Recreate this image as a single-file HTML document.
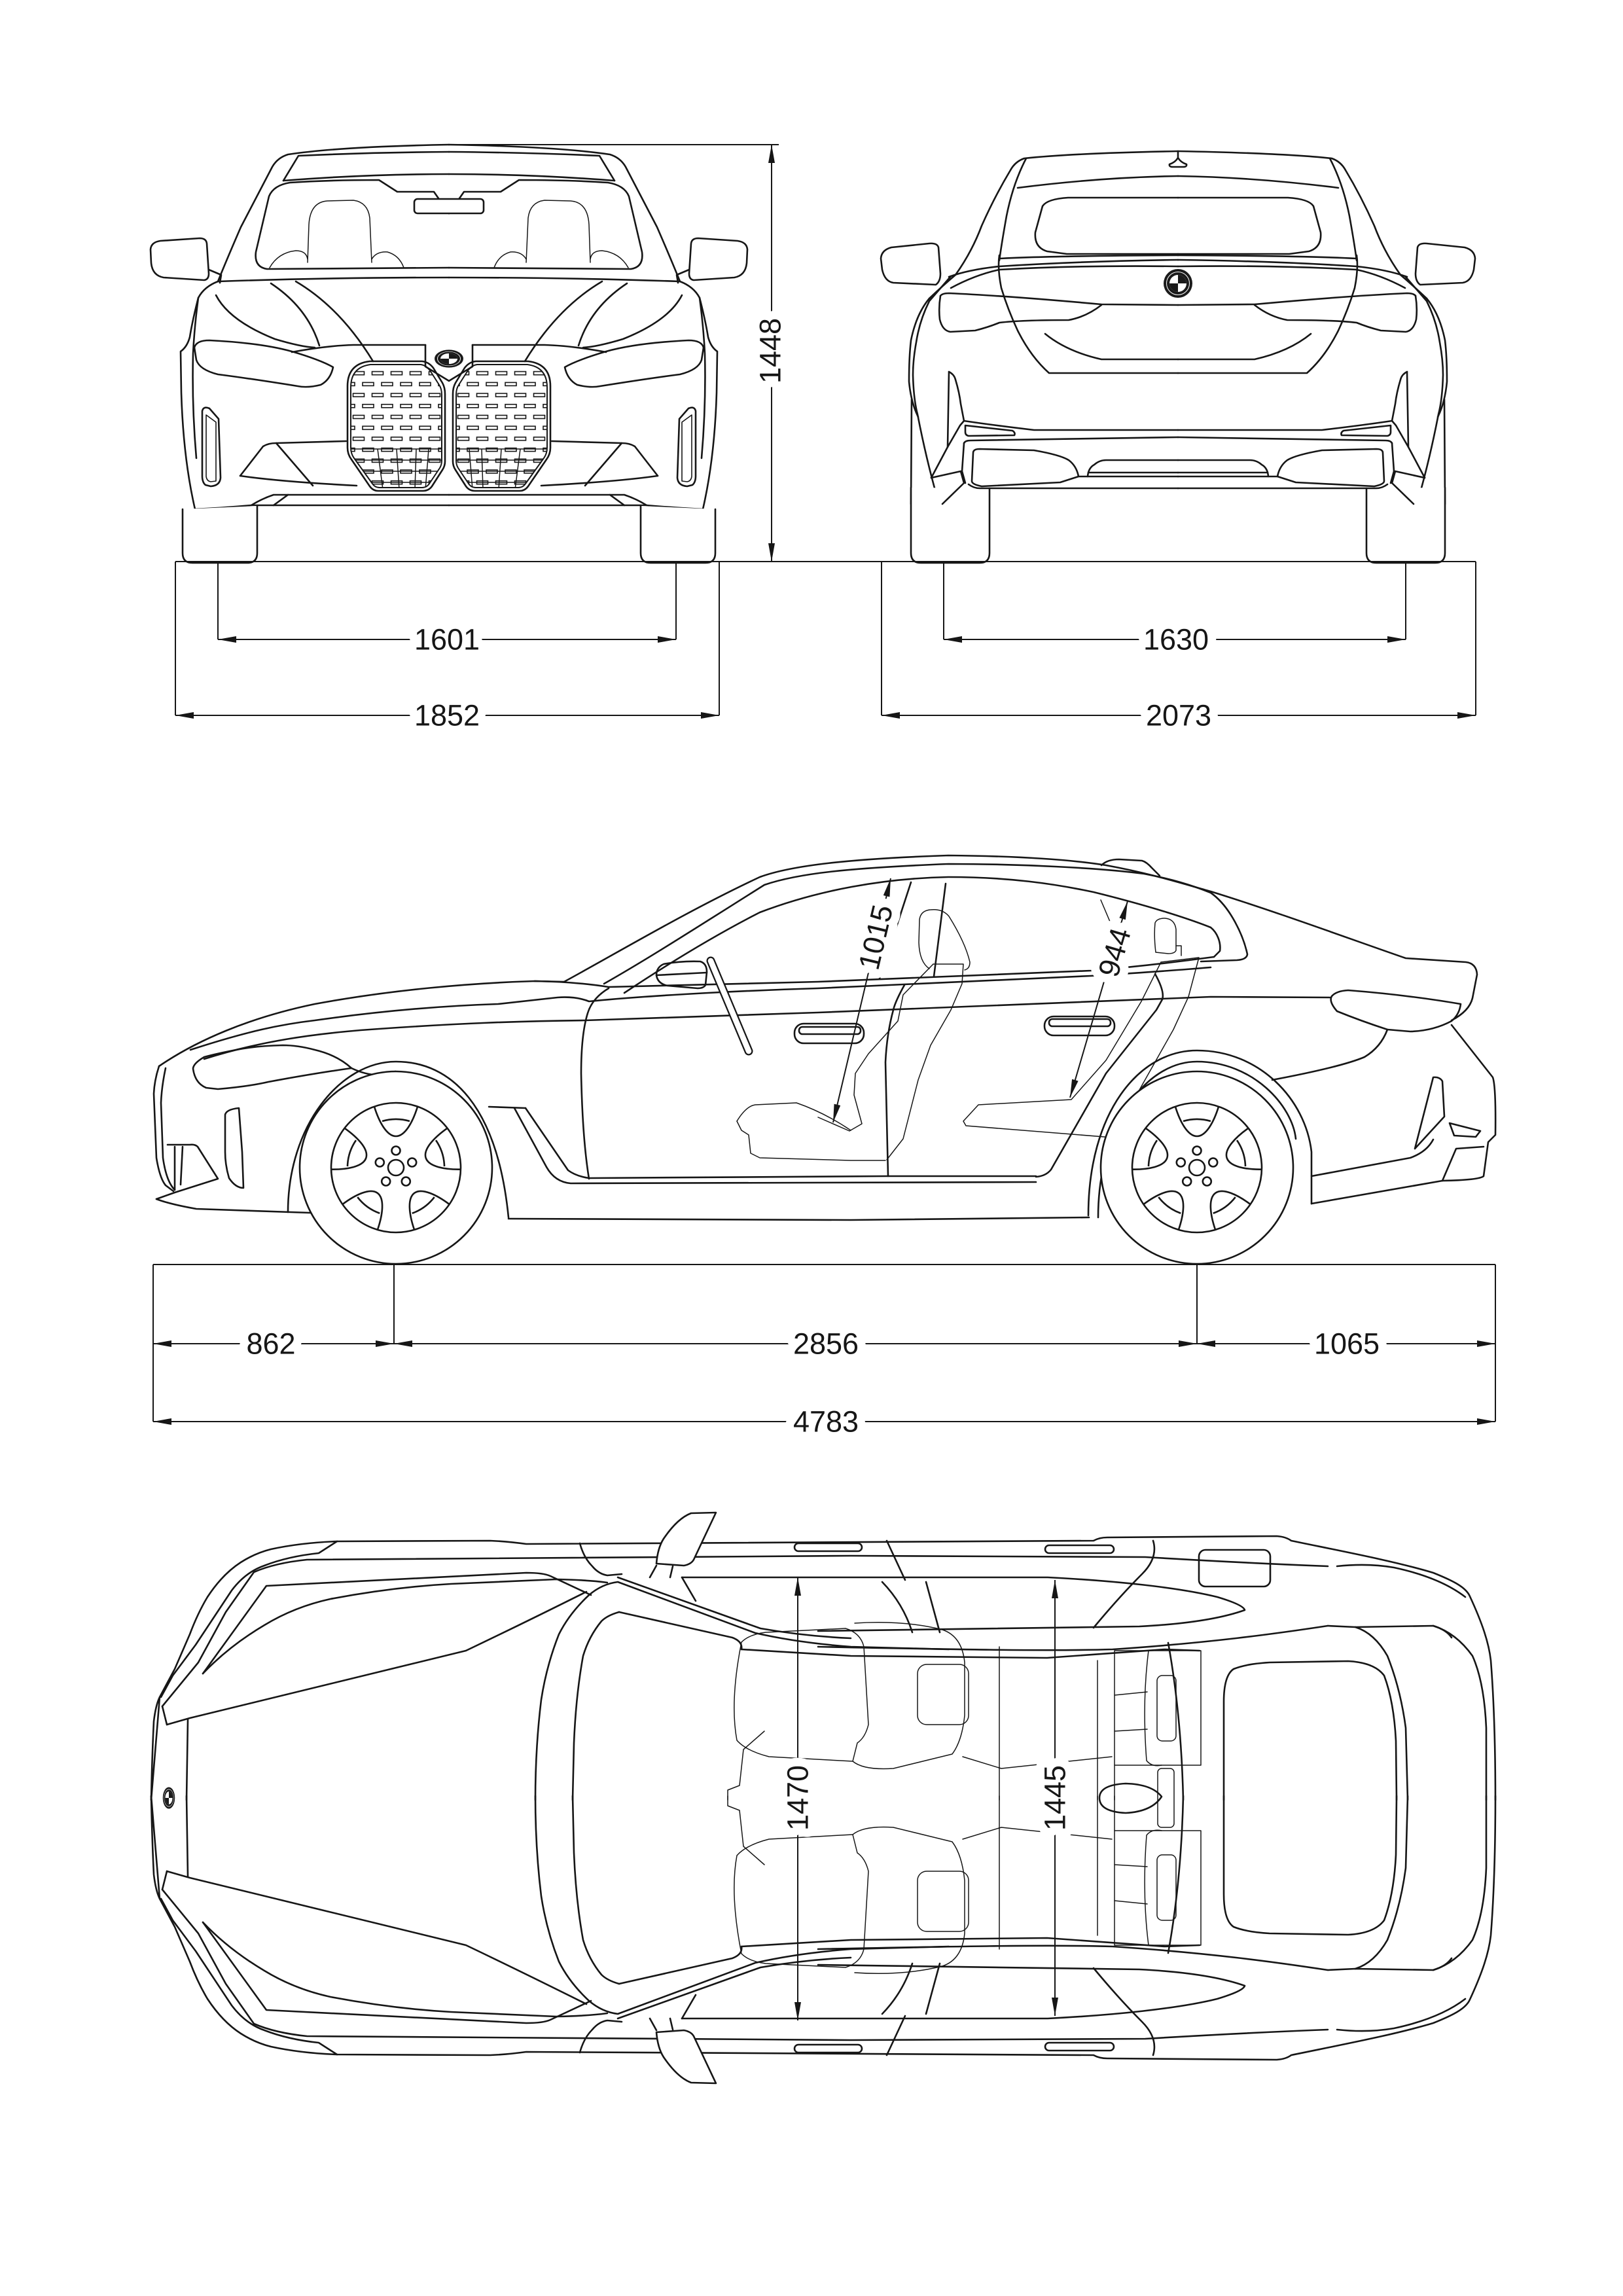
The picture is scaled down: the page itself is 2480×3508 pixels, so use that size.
<!DOCTYPE html>
<html><head><meta charset="utf-8"><style>
html,body{margin:0;padding:0;background:#fff;}
svg{display:block;}
</style></head><body>
<svg width="2480" height="3508" viewBox="0 0 2480 3508" xmlns="http://www.w3.org/2000/svg" xmlns:xlink="http://www.w3.org/1999/xlink">
<defs>
<marker id="ar" viewBox="0 0 28 10" refX="28" refY="5" markerWidth="28" markerHeight="10" markerUnits="userSpaceOnUse" orient="auto-start-reverse"><path d="M0,0 L28,5 L0,10 z" fill="#161616"/></marker>
<pattern id="gp" x="562.5" y="561.7" width="29" height="33.4" patternUnits="userSpaceOnUse">
<g fill="none" stroke="#161616" stroke-width="1.6"><rect x="6" y="6" width="17" height="5"/><rect x="-8.5" y="22.7" width="17" height="5"/><rect x="20.5" y="22.7" width="17" height="5"/></g></pattern>
<g id="logo"><circle r="22" fill="#1a1a1a"/><circle r="13" fill="#fff"/><path d="M0,0 L0,-13 A13,13 0 0 1 13,0 Z" fill="#1a1a1a"/><path d="M0,0 L0,13 A13,13 0 0 1 -13,0 Z" fill="#1a1a1a"/><circle r="17.5" fill="none" stroke="#fff" stroke-width="1"/></g>
<g id="win"><path d="M-33.3,-94 C-26,-70 -14,-48 0,-48 C14,-48 26,-70 33.3,-94"/><path d="M-21,-71 A74,74 0 0 1 21,-71"/></g>
<g id="wheel" fill="none" stroke="#161616" stroke-width="2.6">
<circle r="147" fill="#fff"/><circle r="99"/><circle r="12"/>
<circle cx="0" cy="-26" r="6.5"/><circle cx="24.7" cy="-8" r="6.5"/><circle cx="15.3" cy="21" r="6.5"/><circle cx="-15.3" cy="21" r="6.5"/><circle cx="-24.7" cy="-8" r="6.5"/>
<use xlink:href="#win"/><use xlink:href="#win" transform="rotate(72)"/><use xlink:href="#win" transform="rotate(144)"/><use xlink:href="#win" transform="rotate(216)"/><use xlink:href="#win" transform="rotate(288)"/>
</g>
<clipPath id="kc"><path d="M536,592 Q536,561 566,557 L643,557 Q651,558 657,566 L671,588 Q675,594 675,603 L675,704 Q675,710 672,715 L656,739 Q652,745 645,745 L580,745 Q573,745 569,739 L541,700 Q536,693 536,684 Z"/></clipPath>
</defs>
<rect width="2480" height="3508" fill="#fff"/>

<!-- ================= FRONT VIEW ================= -->
<g fill="none" stroke="#161616" stroke-width="2.6" stroke-linejoin="round" stroke-linecap="round">
<g id="fh">
<path d="M686,221 Q520,224 440,236 Q424,241 416,255 L368,347 Q345,400 333,430"/>
<path d="M686,232 Q560,233 456,238 L433,276"/>
<path d="M433,276 Q560,266 686,266"/>
<path d="M686,326 L663,293 L607,293 L579,275 Q500,275 443,279 Q418,283 411,300 L391,385 Q388,408 408,411 L686,409"/>
<g stroke-width="1.5"><path d="M470,401 L472,343 Q474,309 500,307 L540,306 Q562,309 565,333 L568,401"/><path d="M412,409 Q425,386 452,383 Q468,383 470,396 M568,396 Q575,384 592,385 Q610,390 617,409"/></g>
<path d="M333,430 Q500,424 686,424"/>
<path d="M333,430 Q312,438 303,455 Q294,490 290,515 Q286,530 276,537 L277,600 Q280,700 298,778"/>
<path d="M303,455 Q297,500 295,540 Q293,620 300,700"/>
<path d="M298,778 Q340,776 384,772 Q400,762 418,756 L686,756"/>
<path d="M384,772 L686,772"/>
<path d="M279,778 L279,845 Q279,860 294,860 L378,860 Q393,860 393,845 L393,773" fill="#fff"/>
<path d="M319,418 L316,372 Q315,364 305,364 L245,368 Q231,370 230,381 L231,402 Q233,421 250,424 L312,428 Q319,427 319,418 Z"/>
<path d="M319,412 L338,420 L336,432"/>
<path d="M297,531 Q300,520 320,520 Q400,524 446,537 Q490,550 509,561 Q505,580 490,588 Q470,593 455,590 Q380,578 333,572 Q305,565 300,550 Z"/>
<path d="M446,538 Q500,528 540,527 L650,527"/>
<path d="M414,433 Q470,470 488,528"/>
<path d="M452,430 Q520,470 570,552"/>
<path d="M330,451 Q350,490 420,518 Q460,530 481,531"/>
<path d="M531,590 Q531,556 565,552 L645,552 Q655,553 662,562 L676,585 Q680,592 680,602 L680,705 Q680,712 676,718 L660,743 Q655,750 646,750 L578,750 Q570,750 565,743 L537,702 Q531,694 531,684 Z"/>
<path d="M536,592 Q536,561 566,557 L643,557 Q651,558 657,566 L671,588 Q675,594 675,603 L675,704 Q675,710 672,715 L656,739 Q652,745 645,745 L580,745 Q573,745 569,739 L541,700 Q536,693 536,684 Z" fill="url(#gp)" stroke-width="2"/>
<g clip-path="url(#kc)" stroke-width="1.5"><path d="M530,686 H680 M530,703 H680 M530,720 H680 M530,737 H680 M577,686 L585,748 M606,686 L610,748 M636,686 L634,748 M655,686 L650,748"/></g>
<path d="M367,727 L402,682 Q410,677 422,677 L529,674"/>
<path d="M367,727 Q430,736 545,742"/>
<path d="M422,677 L478,742"/>
<path d="M309,628 Q311,620 320,624 L334,640 L337,730 Q336,742 322,743 L314,741 Q309,737 309,727 Z"/>
<path d="M315,634 L315,728 Q316,735 322,736 L330,735 L330,645 Z" stroke-width="1.6"/>
<path d="M418,772 L440,756"/>
</g>
<use xlink:href="#fh" transform="matrix(-1,0,0,1,1372,0)"/>
<path d="M650,527 L650,560 L686,582 L722,560 L722,527"/>
<rect x="633" y="304" width="106" height="22" rx="5" fill="#fff"/>
</g>
<use xlink:href="#logo" transform="translate(686,548) scale(1,0.62)"/>

<!-- ================= REAR VIEW ================= -->
<g fill="none" stroke="#161616" stroke-width="2.6" stroke-linejoin="round" stroke-linecap="round">
<g id="rh">
<path d="M1800,231 Q1640,234 1565,242 Q1551,247 1544,260 Q1520,300 1500,345 Q1485,385 1460,420 Q1440,437 1420,456"/>
<path d="M1568,242 Q1548,280 1538,330 Q1530,375 1527,398"/>
<path d="M1555,287 Q1680,271 1800,269"/>
<path d="M1800,302 L1632,302 Q1600,304 1593,315 L1582,355 Q1580,378 1600,384 L1630,388 L1800,388"/>
<path d="M1527,395 Q1600,391 1800,390"/>
<path d="M1527,390 Q1524,410 1530,440 Q1540,473 1555,505 Q1575,545 1603,570 L1800,570"/>
<path d="M1450,423 Q1480,412 1527,407 Q1650,399 1800,397"/>
<path d="M1453,440 Q1490,420 1527,412 Q1650,405 1800,407"/>
<path d="M1437,452 Q1440,448 1450,448 Q1540,452 1683,465 L1800,466"/>
<path d="M1437,452 Q1434,470 1436,488 Q1440,505 1452,507 L1490,505 Q1510,500 1527,493 Q1560,489 1633,489 Q1660,484 1683,466"/>
<path d="M1597,510 Q1630,537 1683,549 L1800,549"/>
<path d="M1453,422 L1420,460 Q1405,490 1400,523 Q1395,550 1395,573 Q1396,610 1402,633 Q1415,700 1432,760"/>
<path d="M1420,456 Q1400,480 1392,520 Q1389,545 1389,583 Q1392,615 1403,637"/>
<path d="M1393,610 L1392,770"/>
<path d="M1392,745 L1392,845 Q1392,860 1407,860 L1497,860 Q1512,860 1512,845 L1512,746" fill="#fff"/>
<path d="M1437,418 L1434,378 Q1432,371 1420,372 L1362,378 Q1347,382 1346,395 L1348,412 Q1352,430 1365,432 L1430,435 Q1437,430 1437,418 Z"/>
<path d="M1450,568 L1448,683 L1423,730"/>
<path d="M1450,568 Q1458,572 1460,580 Q1466,600 1468,617 L1473,643 L1467,650 L1448,683"/>
<path d="M1475,650 L1547,658 Q1552,661 1550,665 L1480,666 Q1475,665 1475,660 Z"/>
<path d="M1473,643 Q1520,650 1580,657 L1800,657"/>
<path d="M1473,677 Q1475,673 1483,673 L1800,668"/>
<path d="M1473,677 L1470,720 L1475,738"/>
<path d="M1487,692 Q1487,686 1497,686 L1580,688 Q1620,695 1633,703 Q1645,712 1648,728 L1620,737 L1500,743 Q1485,740 1485,735 Z"/>
<path d="M1662,728 Q1663,715 1672,710 Q1680,703 1690,703 L1800,703"/>
<path d="M1663,722 L1800,722"/>
<path d="M1648,728 L1800,728"/>
<path d="M1480,740 Q1488,746 1497,746 L1800,746"/>
<path d="M1423,730 L1468,720 L1473,738 L1440,770"/>
</g>
<use xlink:href="#rh" transform="matrix(-1,0,0,1,3600,0)"/>
<path d="M1800,231 L1800,241 Q1796,248 1787,251 Q1786,255 1792,255 L1808,255 Q1814,255 1813,251 Q1804,248 1800,241"/>
</g>
<use xlink:href="#logo" transform="translate(1800,433)"/>

<!-- ================= SIDE VIEW ================= -->
<g fill="none" stroke="#161616" stroke-width="2.6" stroke-linejoin="round" stroke-linecap="round">
<path d="M243,1629 C300,1590 380,1555 481,1534 C600,1512 720,1502 817,1499 L862,1500"/>
<path d="M862,1500 C950,1452 1050,1392 1161,1340 C1210,1322 1300,1312 1449,1307 C1560,1308 1640,1314 1690,1322 C1760,1335 1800,1348 1850,1362 C1950,1393 2050,1430 2148,1464 L2240,1470 Q2256,1472 2257,1489 L2250,1525 Q2245,1545 2218,1559"/>
<path d="M1683,1322 Q1692,1313 1710,1313 L1745,1315 Q1752,1317 1760,1326 L1772,1338"/>
<path d="M923,1503 C990,1465 1060,1420 1168,1352 C1220,1334 1300,1326 1449,1320 C1560,1320 1680,1326 1748,1335 C1790,1343 1820,1352 1850,1364 C1880,1385 1900,1430 1906,1458 Q1905,1466 1890,1467 L1835,1469"/>
<path d="M954,1517 C1040,1460 1110,1420 1161,1394 C1250,1360 1350,1342 1449,1340 C1540,1340 1610,1350 1671,1363 C1760,1385 1820,1405 1850,1417 C1860,1425 1866,1440 1864,1453 L1855,1462"/>
<path d="M817,1499 Q880,1500 930,1508 C1050,1505 1150,1502 1250,1500 L1667,1483 Q1760,1475 1855,1462"/>
<path d="M291,1604 C380,1575 430,1565 481,1559 C600,1542 700,1536 761,1534 L852,1524 Q880,1522 900,1530 C1000,1520 1150,1513 1250,1510 L1667,1491 Q1780,1484 1850,1478"/>
<path d="M312,1618 C400,1590 480,1580 551,1574 C700,1563 800,1560 894,1559 L1250,1547 L1850,1523 L2032,1524"/>
<path d="M312,1615 Q295,1625 295,1633 Q298,1655 315,1662 L333,1664 Q380,1660 410,1653 Q480,1640 537,1632 Q515,1612 481,1604 Q455,1597 432,1597 Q390,1598 361,1604 Q330,1610 312,1615 Z"/>
<path d="M537,1632 Q575,1650 604,1637"/>
<path d="M243,1629 Q236,1650 235,1671 L239,1769 Q244,1800 253,1811 L265,1820"/>
<path d="M253,1632 Q247,1660 246,1685 L249,1769 Q254,1805 267,1818"/>
<path d="M239,1832 L267,1822 L333,1801 L302,1752 Q298,1748 290,1749 L256,1749"/>
<path d="M267,1752 L267,1818 M279,1752 L276,1810"/>
<path d="M239,1832 Q260,1840 300,1847 L474,1853"/>
<path d="M344,1703 Q346,1695 365,1693 L370,1760 L372,1815 Q360,1815 350,1800 Q344,1780 344,1760 Z"/>
<path d="M440,1852 C440,1720 520,1622 605,1622 C690,1622 760,1690 777,1860"/>
<path d="M747,1691 L803,1693"/>
<path d="M786,1693 L835,1783 Q848,1806 872,1808 L1583,1806"/>
<path d="M803,1693 L868,1788 Q880,1797 900,1800 L1355,1797 L1583,1797"/>
<path d="M777,1862 L1300,1864 L1664,1860"/>
<path d="M930,1510 Q905,1525 898,1548 Q888,1580 888,1640 Q890,1740 900,1801"/>
<path d="M1392,1348 L1344,1495 M1445,1350 L1427,1492"/>
<path d="M1382,1505 Q1368,1530 1365,1543 Q1355,1580 1353,1623 L1357,1797"/>
<path d="M1765,1488 Q1780,1515 1776,1527 L1767,1543 L1690,1640 L1606,1787 Q1598,1797 1583,1798"/>
<rect x="1214" y="1564" width="106" height="30" rx="14"/><rect x="1221" y="1569" width="94" height="11" rx="5"/>
<rect x="1596" y="1553" width="107" height="29" rx="14"/><rect x="1603" y="1557" width="94" height="11" rx="5"/>
<path d="M1663,1857 C1663,1700 1740,1605 1829,1605 C1925,1605 1995,1680 2004,1760 L2004,1839"/>
<path d="M1678,1860 C1678,1720 1750,1622 1829,1622 C1915,1622 1975,1690 1980,1740"/>
<path d="M1944,1650 Q2050,1630 2085,1615 Q2110,1600 2120,1573"/>
<path d="M2004,1797 L2155,1769 Q2180,1760 2190,1741"/>
<path d="M2218,1566 L2281,1646 Q2286,1660 2285,1734 L2274,1745 L2267,1797 Q2260,1803 2204,1804 L2004,1839"/>
<path d="M2162,1755 L2190,1646 Q2200,1645 2204,1652 L2207,1706 L2162,1755"/>
<path d="M2215,1716 L2262,1728 L2255,1737 L2222,1735 Z"/>
<path d="M2204,1804 L2225,1755 L2267,1752"/>
<path d="M2043,1545 Q2030,1530 2035,1522 Q2042,1514 2060,1513 Q2150,1520 2232,1534 Q2230,1550 2218,1560 Q2190,1575 2155,1576 L2120,1573 Q2080,1560 2043,1545 Z"/>
<path d="M1003,1490 Q1003,1478 1014,1473 Q1040,1468 1070,1469 Q1080,1472 1080,1485 L1078,1505 Q1075,1510 1066,1510 L1020,1506 Q1005,1503 1003,1490 Z"/>
<path d="M1003,1490 L1080,1486"/>
<path d="M1086,1468 L1144,1606" stroke-width="13"/>
<path d="M1086,1468 L1144,1606" stroke="#fff" stroke-width="8.5"/>
<g stroke-width="1.5">
<path d="M1420,1480 Q1405,1470 1404,1440 L1405,1405 Q1407,1391 1422,1390 Q1440,1388 1450,1400 Q1475,1440 1482,1470 Q1482,1480 1474,1482"/>
<path d="M1426,1473 L1472,1473 L1470,1503 L1453,1543 L1422,1597 L1403,1650 L1380,1740 L1355,1772"/>
<path d="M1426,1473 L1380,1520 L1372,1560 L1327,1610 L1307,1640 L1305,1673 L1317,1717 L1298,1728 L1250,1707"/>
<path d="M1126,1713 Q1140,1690 1154,1688 L1217,1685 Q1260,1700 1300,1727"/>
<path d="M1126,1713 L1133,1727 L1144,1734 L1147,1762 L1161,1769 L1300,1773 L1353,1773"/>
<path d="M1766,1455 Q1763,1430 1765,1410 Q1768,1403 1780,1403 Q1795,1404 1797,1420 L1797,1452 Q1795,1457 1785,1457 Z"/>
<path d="M1797,1445 L1805,1445 L1805,1460"/>
<path d="M1774,1470 L1832,1463 L1816,1523 L1793,1573 L1700,1738"/>
<path d="M1774,1470 L1744,1530 L1690,1620 L1637,1680 L1495,1688 L1472,1713 L1476,1720 L1700,1738"/>
<path d="M1682,1375 L1696,1408"/>
</g>
</g>
<use xlink:href="#wheel" transform="translate(605,1784)"/>
<use xlink:href="#wheel" transform="translate(1829,1784)"/>

<!-- ================= TOP VIEW ================= -->
<g fill="none" stroke="#161616" stroke-width="2.6" stroke-linejoin="round" stroke-linecap="round">
<g id="th">
<path d="M231,2750 C232,2700 234,2650 235,2630 Q238,2605 244,2593 L267,2550 L290,2497 Q302,2465 317,2440 Q340,2405 368,2387 Q390,2373 414,2367 Q460,2357 515,2355 L749,2354 Q775,2355 804,2359 L1671,2354 Q1680,2349 1692,2349 L1951,2347 Q1965,2348 1973,2354 C2050,2370 2130,2385 2190,2403 C2220,2415 2240,2425 2246,2439 C2265,2480 2275,2510 2278,2537 C2283,2600 2285,2680 2285,2750"/>
<path d="M246,2593 L264,2560 L299,2513 L354,2430 Q375,2402 404,2392 Q440,2378 487,2373 L515,2355"/>
<path d="M248,2607 L303,2540 L345,2463 L388,2402 Q420,2388 469,2383 L1300,2377 L1750,2379 C1850,2385 1950,2390 2029,2393"/>
<path d="M231,2750 L244,2593 M255,2635 L248,2607"/>
<path d="M255,2635 L290,2625 L712,2522 Q800,2480 896,2432"/>
<path d="M287,2627 L285,2750"/>
<path d="M310,2557 L407,2423 L804,2403 Q830,2403 841,2408 L903,2437"/>
<path d="M310,2557 Q350,2515 404,2483 Q450,2455 505,2443 Q600,2425 689,2420 L850,2413 Q900,2414 928,2418"/>
<path d="M886,2358 Q892,2380 905,2393 Q915,2405 928,2407 L950,2405"/>
<path d="M900,2437 Q870,2465 854,2497 Q835,2545 827,2597 Q818,2670 818,2750"/>
<path d="M946,2463 Q928,2468 919,2477 Q900,2500 891,2530 Q880,2590 877,2663 L875,2750"/>
<path d="M946,2463 L1119,2502 Q1135,2508 1133,2520"/>
<path d="M900,2437 Q920,2420 944,2417 L1154,2495 Q1220,2510 1300,2516 L1450,2520"/>
<path d="M944,2410 L1162,2488 Q1230,2500 1300,2503"/>
<path d="M1042,2410 L1063,2446"/>
<path d="M1042,2410 L1300,2410 L1601,2410 C1700,2415 1800,2425 1860,2440 Q1900,2452 1902,2460 C1860,2475 1800,2482 1741,2485 L1250,2492"/>
<path d="M1250,2516 C1450,2520 1600,2523 1700,2520 C1850,2510 1950,2496 2029,2484"/>
<path d="M1133,2520 L1300,2530 L1600,2533 L1780,2520 L1833,2522"/>
<path d="M2029,2484 L2071,2486 L2190,2484 Q2210,2490 2218,2502"/>
<path d="M2071,2486 Q2100,2495 2120,2530 Q2140,2580 2148,2640 L2151,2750"/>
<path d="M2190,2484 Q2225,2495 2250,2530 Q2268,2570 2271,2640 L2271,2750"/>
<path d="M1870,2750 L1870,2600 Q1870,2560 1885,2550 Q1905,2542 1940,2540 L2060,2538 Q2100,2540 2115,2560 Q2130,2600 2133,2660 L2134,2750"/>
<path d="M2043,2393 Q2090,2388 2130,2395 Q2200,2410 2239,2440"/>
<path d="M1671,2487 Q1710,2440 1745,2405 Q1770,2380 1762,2354"/>
<path d="M1785,2510 Q1805,2620 1808,2750"/>
<path d="M1355,2354 L1383,2414"/>
<path d="M1348,2417 Q1380,2450 1394,2494 M1415,2417 L1436,2494"/>
<path d="M1003,2389 Q1005,2365 1014,2351 Q1035,2320 1056,2312 L1094,2311 L1060,2383 Q1056,2390 1045,2392 Z" fill="#fff"/>
<path d="M993,2410 L1003,2392 M1028,2393 L1024,2410"/>
<rect x="1214" y="2358" width="103" height="12" rx="6"/>
<rect x="1597" y="2361" width="105" height="12" rx="6"/>
<g stroke-width="1.5">
<path d="M1133,2509 Q1145,2497 1170,2494 L1292,2488 Q1315,2495 1320,2516 L1327,2635 Q1322,2655 1310,2663 L1303,2691 L1175,2684 Q1140,2675 1126,2659 Q1115,2600 1133,2509 Z"/>
<path d="M1306,2480 Q1380,2475 1440,2490 Q1470,2500 1474,2540 L1474,2621 Q1470,2660 1455,2680 L1365,2702 Q1320,2705 1303,2691"/>
<rect x="1402" y="2543" width="78" height="92" rx="14"/>
<path d="M1112,2750 L1112,2735 L1130,2728 L1136,2673 L1168,2645"/>
<path d="M1527,2516 V2750 M1677,2537 V2750 M1703,2522 V2750"/>
<path d="M1703,2522 L1835,2522 L1835,2697 L1703,2697"/>
<path d="M1755,2522 Q1745,2600 1752,2690 Q1760,2700 1775,2697"/>
<path d="M1703,2590 L1753,2585 M1703,2645 L1753,2642"/>
<path d="M1471,2684 L1530,2702 L1699,2684"/>
<rect x="1768" y="2560" width="29" height="100" rx="8"/>
</g>
</g>
<use xlink:href="#th" transform="matrix(1,0,0,-1,0,5494)"/>
<rect x="1832" y="2368" width="109" height="56" rx="10"/>
<path d="M1680,2747 Q1680,2727 1720,2725 Q1760,2726 1775,2745 Q1760,2768 1720,2770 Q1680,2768 1680,2747 Z"/>
<rect x="1769" y="2702" width="25" height="90" rx="6" stroke-width="1.5"/>
</g>
<use xlink:href="#logo" transform="translate(258,2747) scale(0.42,0.75)"/>

<!-- ================= DIMENSIONS ================= -->
<g fill="none" stroke="#161616" stroke-width="2">
<path d="M686,221 L1190,221"/>
<path d="M1179,221 L1179,858" marker-start="url(#ar)" marker-end="url(#ar)"/>
<path d="M268,858 L2255,858"/>
<path d="M333,858 V977 M1033,858 V977 M268,858 V1093 M1099,858 V1093 M1442,858 V977 M2148,858 V977 M1347,858 V1093 M2255,858 V1093"/>
<path d="M333,977 H1033" marker-start="url(#ar)" marker-end="url(#ar)"/>
<path d="M268,1093 H1099" marker-start="url(#ar)" marker-end="url(#ar)"/>
<path d="M1442,977 H2148" marker-start="url(#ar)" marker-end="url(#ar)"/>
<path d="M1347,1093 H2255" marker-start="url(#ar)" marker-end="url(#ar)"/>

<path d="M234,1932 H2285"/>
<path d="M234,1932 V2172 M602,1932 V2053 M1829,1932 V2053 M2285,1932 V2172"/>
<path d="M234,2053 H602" marker-start="url(#ar)" marker-end="url(#ar)"/>
<path d="M602,2053 H1829" marker-start="url(#ar)" marker-end="url(#ar)"/>
<path d="M1829,2053 H2285" marker-start="url(#ar)" marker-end="url(#ar)"/>
<path d="M234,2172 H2285" marker-start="url(#ar)" marker-end="url(#ar)"/>
<path d="M1361,1342 L1273,1715" marker-start="url(#ar)" marker-end="url(#ar)"/>
<path d="M1723,1377 L1635,1677" marker-start="url(#ar)" marker-end="url(#ar)"/>

<path d="M1219,2410 V3087" marker-start="url(#ar)" marker-end="url(#ar)"/>
<path d="M1612,2414 V3080" marker-start="url(#ar)" marker-end="url(#ar)"/>
</g>
<g font-family="'Liberation Sans', sans-serif" font-size="45" fill="#161616" text-anchor="middle" dominant-baseline="central" stroke="#fff" stroke-width="26" paint-order="stroke" stroke-linejoin="round">
<text transform="translate(1177,536) rotate(-90)">1448</text>
<text x="683" y="977">1601</text>
<text x="683" y="1093">1852</text>
<text x="1797" y="977">1630</text>
<text x="1801" y="1093">2073</text>
<text x="414" y="2053">862</text>
<text x="1262" y="2053">2856</text>
<text x="2058" y="2053">1065</text>
<text x="1262" y="2172">4783</text>
<text transform="translate(1338,1432) rotate(-76.7)">1015</text>
<text transform="translate(1703,1455) rotate(-73.6)">944</text>
<text transform="translate(1219,2747) rotate(-90)">1470</text>
<text transform="translate(1612,2747) rotate(-90)">1445</text>
</g>
</svg>
</body></html>
